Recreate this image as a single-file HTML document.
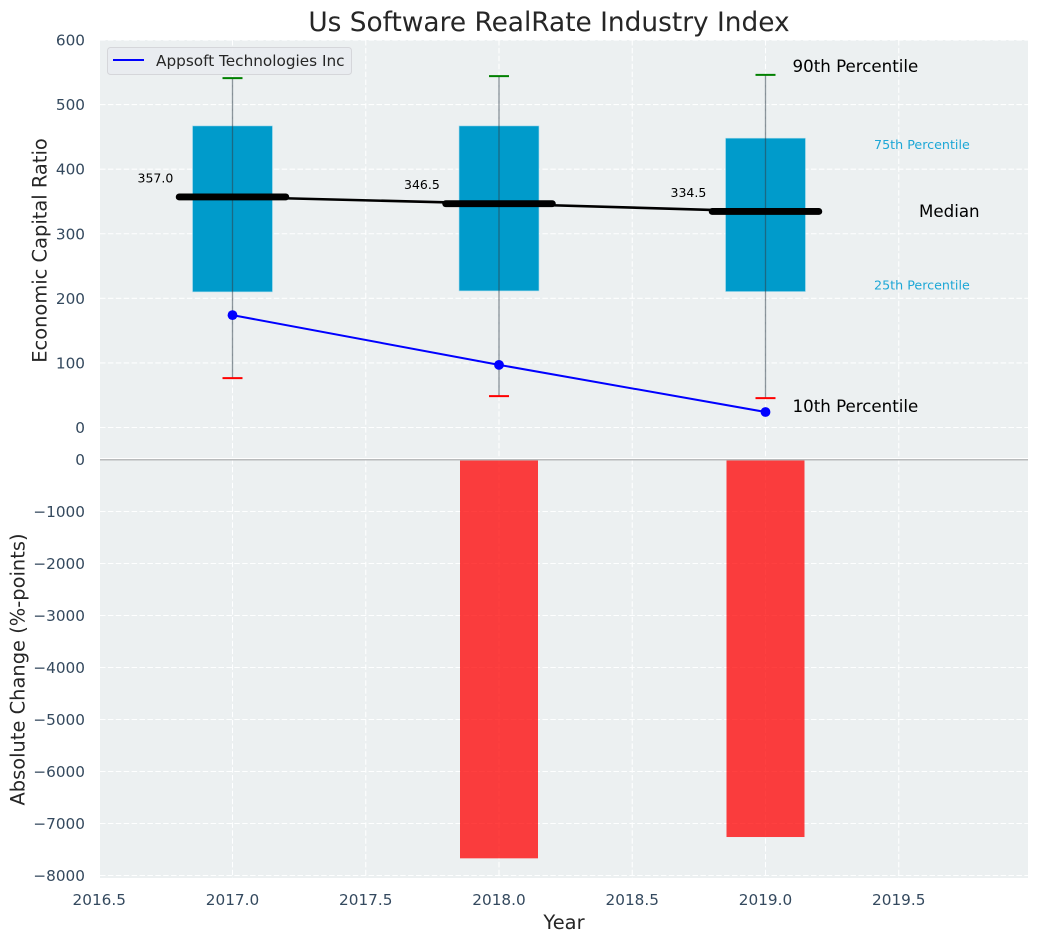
<!DOCTYPE html>
<html lang="en">
<head>
<meta charset="utf-8">
<title>Us Software RealRate Industry Index</title>
<style>
html,body{margin:0;padding:0;background:#fff;width:1039px;height:942px;overflow:hidden}
svg{display:block;font-family:"DejaVu Sans","Liberation Sans",sans-serif}
</style>
</head>
<body>
<svg id="chart" xmlns="http://www.w3.org/2000/svg" width="1039" height="942" viewBox="0 0 1039 942"></svg>
<script>
const years = [2017, 2018, 2019];
const p90 = [541, 544, 546];
const p75 = [467, 467, 448];
const medians = [357, 346.5, 334.5];
const p25 = [210, 211.5, 210.5];
const p10 = [76.5, 48.5, 45.5];
const companyValues = [174, 97, 24];
const absoluteChange = [0, -7670, -7260];
const xTicks = [2016.5, 2017, 2017.5, 2018, 2018.5, 2019, 2019.5];
const topYTicks = [0, 100, 200, 300, 400, 500, 600];
const bottomYTicks = [0, -1000, -2000, -3000, -4000, -5000, -6000, -7000, -8000];
const medianLabels = ['357.0', '346.5', '334.5'];

const svg = document.getElementById('chart');
const NS = 'http://www.w3.org/2000/svg';
const L = 100, R = 1028, T1 = 40, B1 = 458, T2 = 459, B2 = 878;
const X = v => 232.5 + (v - 2017) * 266.5;
const Y1 = v => 427.5 - v * 0.6458;
const Y2 = v => 459.5 - v * 0.052;

function add(tag, attrs, text) {
  const el = document.createElementNS(NS, tag);
  for (const k in attrs) el.setAttribute(k, attrs[k]);
  if (text !== undefined) el.textContent = text;
  svg.appendChild(el);
  return el;
}

let el;
el = add('rect', {x: L, y: T1, width: R - L, height: B1 - T1, fill: '#ecf0f1'});


el = add('rect', {x: L, y: T2, width: R - L, height: B2 - T2, fill: '#ecf0f1'});



const gridStyle = {stroke: '#fff', 'stroke-width': 1.1, 'stroke-dasharray': '5.5 2.4', fill: 'none', opacity: 0.95};
xTicks.forEach(t => {
  el = add('line', {x1: X(t), x2: X(t), y1: T1, y2: B1, ...gridStyle});
  
  
  el = add('line', {x1: X(t), x2: X(t), y1: T2, y2: B2, ...gridStyle});
  
  
  el = add('text', {x: X(t), y: 905, 'text-anchor': 'middle', 'font-size': 15.28, fill: '#34495e'}, t.toFixed(1));
  
  
});
topYTicks.forEach(t => {
  el = add('line', {x1: L, x2: R, y1: Y1(t), y2: Y1(t), ...gridStyle});
  
  
  el = add('text', {x: 85, y: Y1(t) + 5.5, 'text-anchor': 'end', 'font-size': 15.28, fill: '#34495e'}, String(t));
  
  
});
bottomYTicks.forEach(t => {
  el = add('line', {x1: L, x2: R, y1: Y2(t), y2: Y2(t), ...gridStyle});
  
  
  el = add('text', {x: 85, y: Y2(t) + 5.5, 'text-anchor': 'end', 'font-size': 15.28, fill: '#34495e'}, String(t).replace('-', '\u2212'));
  
  
});

/* percentile boxes */
years.forEach((y, i) => {
  el = add('rect', {x: X(y - 0.15), y: Y1(p75[i]), width: X(y + 0.15) - X(y - 0.15), height: Y1(p25[i]) - Y1(p75[i]), fill: '#009bcb', stroke: '#a9dcec', 'stroke-width': 0.6});
  
  
});

/* median connector */
el = add('polyline', {points: years.map((y, i) => X(y) + ',' + Y1(medians[i])).join(' '), fill: 'none', stroke: '#000', 'stroke-width': 2.6});



/* whiskers */
years.forEach((y, i) => {
  el = add('line', {x1: X(y), x2: X(y), y1: Y1(p90[i]), y2: Y1(p10[i]), stroke: '#2f3f4a', 'stroke-opacity': 0.55, 'stroke-width': 1.3});
  
  
  el = add('line', {x1: X(y) - 10, x2: X(y) + 10, y1: Y1(p90[i]), y2: Y1(p90[i]), stroke: '#008000', 'stroke-width': 2});
  
  
  el = add('line', {x1: X(y) - 10, x2: X(y) + 10, y1: Y1(p10[i]), y2: Y1(p10[i]), stroke: '#ff0000', 'stroke-width': 2});
  
  
});

/* medians */
years.forEach((y, i) => {
  el = add('line', {x1: X(y - 0.2), x2: X(y + 0.2), y1: Y1(medians[i]), y2: Y1(medians[i]), stroke: '#000', 'stroke-width': 6.9, 'stroke-linecap': 'round'});
  
  
  el = add('text', {x: X(y) - 95, y: Y1(medians[i]) - 14.5, 'font-size': 12.5, fill: '#000'}, medianLabels[i]);
  
  
});

/* company line */
el = add('polyline', {points: years.map((y, i) => X(y) + ',' + Y1(companyValues[i])).join(' '), fill: 'none', stroke: '#0000ff', 'stroke-width': 2});


years.forEach((y, i) => {
  el = add('circle', {cx: X(y), cy: Y1(companyValues[i]), r: 4.9, fill: '#0000ff'});
  
  
});

/* absolute change bars */
years.forEach((y, i) => {
  if (absoluteChange[i] === 0) return;
  el = add('rect', {x: X(y) - 39, y: Y2(0), width: 78, height: Y2(absoluteChange[i]) - Y2(0), fill: '#ff0000', 'fill-opacity': 0.75});
  
  
});

/* zero line */
el = add('line', {x1: L, x2: R, y1: 459.7, y2: 459.7, stroke: '#b8babb', 'stroke-width': 1.5});



/* percentile annotations, positioned relative to the last year */
const last = years.length - 1;
const lastX = X(years[last]);
el = add('text', {x: lastX + 27, y: Y1(p90[last]) - 3, 'font-size': 16.67, fill: '#000'}, '90th Percentile');


el = add('text', {x: lastX + 27, y: Y1(p10[last]) + 14, 'font-size': 16.67, fill: '#000'}, '10th Percentile');


el = add('text', {x: lastX + 108.5, y: Y1(p75[last]) + 11, 'font-size': 12.7, fill: '#1da7d6'}, '75th Percentile');


el = add('text', {x: lastX + 108.5, y: Y1(p25[last]) - 2, 'font-size': 12.7, fill: '#1da7d6'}, '25th Percentile');


el = add('text', {x: lastX + 153.5, y: Y1(medians[last]) + 5.5, 'font-size': 16.67, fill: '#000'}, 'Median');



/* legend */
el = add('rect', {x: 107.5, y: 47.5, width: 244, height: 27, rx: 3, fill: '#e9ebf0', 'fill-opacity': 0.9, stroke: '#d5d6da', 'stroke-width': 1});


el = add('line', {x1: 113, x2: 144, y1: 60, y2: 60, stroke: '#0000ff', 'stroke-width': 2});


el = add('text', {x: 156, y: 66, 'font-size': 15.28, fill: '#262626'}, 'Appsoft Technologies Inc');



/* titles */
el = add('text', {x: 549, y: 31, 'text-anchor': 'middle', 'font-size': 26.39, fill: '#262626'}, 'Us Software RealRate Industry Index');


el = add('text', {x: 564, y: 929, 'text-anchor': 'middle', 'font-size': 19.44, fill: '#262626'}, 'Year');


el = add('text', {x: 0, y: 0, transform: 'translate(46.5,250.5) rotate(-90)', 'text-anchor': 'middle', 'font-size': 19.44, fill: '#262626'}, 'Economic Capital Ratio');


el = add('text', {x: 0, y: 0, transform: 'translate(24.5,669.5) rotate(-90)', 'text-anchor': 'middle', 'font-size': 19.44, fill: '#262626'}, 'Absolute Change (%-points)');


</script>
</body>
</html>
